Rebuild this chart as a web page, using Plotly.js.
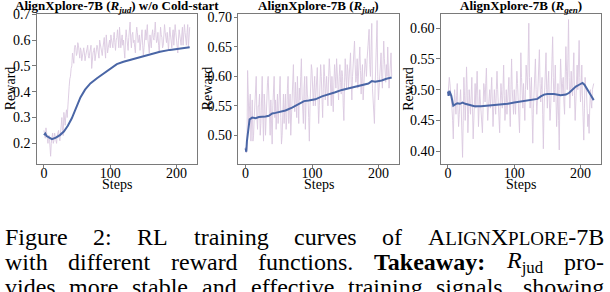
<!DOCTYPE html>
<html>
<head>
<meta charset="utf-8">
<script src="https://cdn.plot.ly/plotly-3.0.1.min.js"></script>
<style>html,body{margin:0;padding:0;background:#fff;}#chart{width:610px;height:292px;}</style>
</head>
<body>
<div id="chart"></div>
<script>
// ---------- data ----------
const rawStepInterval = 1; // raw reward logged every step (0..220)

// Panel 1: AlignXplore-7B (R_jud) w/o Cold-start
const raw1 = [0.25,0.24,0.22,0.26,0.24,0.21,0.20,0.23,0.23,0.19,0.15,
  0.20,0.22,0.24,0.20,0.21,0.24,0.22,0.21,0.20,0.23,0.24,0.25,0.22,0.21,
  0.24,0.28,0.30,0.25,0.23,0.32,0.29,0.27,0.31,0.33,0.30,0.36,
  0.39,0.42,0.45,0.46,0.49,0.50,0.55,0.53,0.51,0.57,
  0.58,0.57,0.54,0.55,0.59,0.58,0.55,0.53,0.57,0.56,0.52,0.54,0.57,0.57,0.55,0.52,0.54,0.55,0.57,0.58,0.54,0.53,0.55,0.56,0.58,0.49,0.53,
  0.55,0.56,0.57,0.52,0.54,0.56,0.58,0.57,0.55,0.53,0.60,0.58,0.56,0.55,0.54,0.57,0.59,0.61,0.56,0.53,0.62,0.59,0.55,0.57,0.58,0.60,0.57,
  0.62,0.60,0.58,0.57,0.61,0.63,0.59,0.56,0.60,0.61,
  0.64,0.59,0.57,0.65,0.61,0.57,0.60,0.62,0.58,0.60,
  0.56,0.53,0.60,0.64,0.61,0.58,0.56,0.61,0.63,0.67,
  0.60,0.57,0.62,0.63,0.59,0.60,0.57,0.55,0.62,0.65,
  0.63,0.59,0.60,0.62,0.56,0.58,0.61,0.64,0.58,0.54,
  0.57,0.61,0.64,0.60,0.63,0.66,0.60,0.58,0.55,0.62,
  0.59,0.57,0.62,0.64,0.61,0.60,0.63,0.67,0.62,0.59,
  0.60,0.63,0.58,0.55,0.60,0.65,0.62,0.61,0.57,0.58,
  0.62,0.66,0.63,0.60,0.59,0.63,0.60,0.56,0.61,0.65,
  0.62,0.60,0.57,0.62,0.64,0.58,0.61,0.66,0.63,0.61,
  0.58,0.55,0.60,0.64,0.62,0.60,0.58,0.62,0.65,0.58,
  0.61,0.66,0.63,0.60,0.58,0.63,0.66,0.57,0.61,0.65];
const smoothSteps1 = [0,2,4,8,12,18,24,30,36,42,48,55,62,70,80,90,100,110,120,130,145,160,175,190,205,220];
const smooth1 = [0.232,0.238,0.228,0.222,0.216,0.222,0.232,0.246,0.268,0.297,0.335,0.378,0.408,0.432,0.452,0.470,0.490,0.507,0.516,0.523,0.533,0.545,0.555,0.562,0.567,0.572];

// Panel 2: AlignXplore-7B (R_jud)
const raw2 = [0.48,0.47,0.475,0.61,0.57,0.52,0.55,0.57,0.49,0.53,0.56,
  0.49,0.50,0.53,0.56,0.58,0.60,0.53,0.51,0.55,0.55,0.57,0.50,0.52,0.58,0.60,0.53,0.49,0.57,0.55,0.50,
  0.54,0.55,0.59,0.60,0.56,0.52,0.50,0.56,0.53,0.485,0.55,0.58,0.60,0.53,0.56,
  0.51,0.54,0.57,0.52,0.55,0.58,0.60,0.53,0.485,0.50,0.54,0.57,0.52,0.55,0.57,
  0.51,0.53,0.58,0.60,0.52,0.55,0.57,0.50,0.54,0.58,0.61,0.62,0.56,0.54,0.59,0.57,0.53,0.60,0.55,0.52,
  0.58,0.56,0.60,0.63,0.57,0.55,0.52,0.58,0.60,0.51,0.55,0.60,0.57,0.56,0.53,0.49,0.55,0.59,0.62,0.61,
  0.57,0.55,0.58,0.60,0.55,0.57,0.59,0.615,0.56,0.52,0.55,0.58,0.62,0.60,0.57,0.53,0.58,0.62,0.60,0.56,
  0.58,0.60,0.57,0.55,0.60,0.63,0.61,0.57,0.55,0.60,0.56,0.54,0.59,0.62,0.60,0.58,0.63,0.60,0.58,0.56,
  0.60,0.62,0.59,0.57,0.61,0.60,0.55,0.525,0.59,0.63,0.60,0.58,0.62,0.61,0.58,0.60,0.63,0.64,0.59,0.56,
  0.60,0.62,0.66,0.66,0.62,0.59,0.60,0.63,0.58,0.60,0.62,0.65,0.61,0.57,0.60,0.62,0.56,0.59,0.61,0.63,
  0.62,0.60,0.63,0.65,0.67,0.68,0.62,0.60,0.65,0.69,0.58,0.55,0.53,0.52,0.58,0.62,0.67,0.695,0.60,0.56,
  0.58,0.60,0.62,0.64,0.60,0.58,0.62,0.66,0.63,0.61,0.59,0.62,0.60,0.65,0.61,0.58,0.60,0.63,0.64,0.60];
const smoothSteps2 = [0,1,2,4,6,10,15,20,25,30,35,40,45,50,55,60,70,80,88,95,105,115,125,135,145,155,165,175,185,190,195,205,212,220];
const smooth2 = [0.478,0.472,0.490,0.515,0.527,0.530,0.529,0.531,0.531,0.532,0.533,0.537,0.538,0.539,0.540,0.542,0.547,0.553,0.558,0.559,0.561,0.566,0.569,0.573,0.577,0.580,0.583,0.585,0.588,0.592,0.591,0.593,0.596,0.598];

// Panel 3: AlignXplore-7B (R_gen)
const raw3 = [0.49,0.50,0.52,0.51,0.50,0.48,0.47,0.45,0.42,0.47,0.50,
  0.48,0.46,0.49,0.51,0.47,0.44,0.46,0.49,0.50,0.47,0.43,0.39,0.45,0.52,0.49,0.45,0.48,0.537,0.50,0.43,
  0.46,0.50,0.48,0.46,0.49,0.52,0.47,0.42,0.45,0.49,0.51,0.47,0.50,0.53,0.49,
  0.44,0.47,0.50,0.48,0.46,0.44,0.43,0.47,0.51,0.50,0.48,0.51,0.535,0.48,0.45,
  0.47,0.49,0.50,0.47,0.49,0.52,0.48,0.44,0.47,0.50,0.48,0.46,0.50,0.53,0.50,0.48,0.45,0.43,0.48,0.51,
  0.49,0.47,0.50,0.54,0.49,0.45,0.47,0.50,0.46,0.48,0.50,0.52,0.47,0.44,0.50,0.55,0.50,0.47,0.46,0.50,
  0.48,0.46,0.50,0.53,0.51,0.49,0.46,0.43,0.49,0.56,0.52,0.48,0.47,0.51,0.49,0.45,0.50,0.54,0.52,0.50,
  0.55,0.608,0.52,0.47,0.50,0.52,0.46,0.413,0.47,0.50,0.53,0.55,0.50,0.46,0.48,0.51,0.54,0.565,0.51,0.48,
  0.50,0.52,0.46,0.404,0.47,0.50,0.53,0.56,0.50,0.47,0.51,0.53,0.48,0.45,0.47,0.50,0.55,0.586,0.52,0.48,
  0.50,0.54,0.49,0.44,0.47,0.51,0.45,0.402,0.50,0.55,0.52,0.49,0.51,0.52,0.48,0.46,0.52,0.57,0.53,0.50,
  0.55,0.614,0.52,0.47,0.50,0.53,0.50,0.49,0.53,0.56,0.49,0.45,0.48,0.52,0.54,0.50,0.55,0.58,0.52,0.48,
  0.50,0.54,0.49,0.46,0.418,0.47,0.52,0.50,0.50,0.47,0.44,0.46,0.429,0.47,0.50,0.48,0.47,0.50,0.51,0.51];
const smoothSteps3 = [0,1,2,3,5,8,11,14,18,22,26,30,35,40,50,60,70,80,90,100,110,120,130,135,140,145,150,160,170,178,183,188,193,198,203,206,210,215,220];
const smooth3 = [0.497,0.490,0.498,0.495,0.490,0.474,0.476,0.478,0.477,0.479,0.477,0.476,0.474,0.473,0.473,0.474,0.474,0.475,0.477,0.479,0.481,0.483,0.484,0.485,0.489,0.492,0.493,0.493,0.491,0.492,0.495,0.500,0.505,0.508,0.511,0.508,0.500,0.492,0.483];

const titles = [
  'AlignXplore-7B (<i>R</i><sub><i>jud</i></sub>) w/o Cold-start',
  'AlignXplore-7B (<i>R</i><sub><i>jud</i></sub>)',
  'AlignXplore-7B (<i>R</i><sub><i>gen</i></sub>)'
];
const yTicks = [
  [0.2,0.3,0.4,0.5,0.6,0.7],
  [0.50,0.55,0.60,0.65,0.70],
  [0.40,0.45,0.50,0.55,0.60]
];
const yTickText = [
  ['0.2','0.3','0.4','0.5','0.6','0.7'],
  ['0.50','0.55','0.60','0.65','0.70'],
  ['0.40','0.45','0.50','0.55','0.60']
];
const xTicks = [0,100,200];
const xLabel = 'Steps';
const yLabel = 'Reward';
const SC = '<span style="font-size:19px">';
const captionWords = [
  ['Figure','2:','RL','training','curves','of','A'+SC+'LIGN</span>X'+SC+'PLORE</span>-7B'],
  ['with','different','reward','functions.','<b>Takeaway:</b>','<i>R</i><sub>jud</sub>','pro-'],
  ['vides','more','stable','and','effective','training','signals,','showing']
];

// ---------- styles ----------
const W = 610, H = 292;
const FONT = 'Liberation Serif';
const RAW_COLOR = '#dac8e0';
const SMOOTH_COLOR = '#4a66a6';
const FRAME = '#7a7a7a';

const raws = [raw1, raw2, raw3];
const smoothSteps = [smoothSteps1, smoothSteps2, smoothSteps3];
const smooths = [smooth1, smooth2, smooth3];

// panel frames in pixels (left, right, top, bottom)
const frames = [
  [36.7, 197, 14, 163.5],
  [238.3, 399, 14, 163.5],
  [440.7, 601, 14, 163.5]
];
const yLabelX = [10.5, 207.5, 409];
const yRanges = [[0.122, 0.701],[0.452, 0.706],[0.380, 0.623]];
const xRange = [-11, 231];

const traces = [];
const layout = {
  width: W, height: H,
  margin: {l:0, r:0, t:0, b:0},
  paper_bgcolor: '#fff', plot_bgcolor: '#fff',
  showlegend: false,
  font: {family: FONT, color: '#000', size: 14},
  annotations: []
};

for (let i = 0; i < 3; i++) {
  const xa = i === 0 ? 'x' : 'x' + (i+1);
  const ya = i === 0 ? 'y' : 'y' + (i+1);
  const rawSteps = raws[i].map((_, k) => k * rawStepInterval);
  traces.push({x: rawSteps, y: raws[i], type: 'scatter', mode: 'lines', xaxis: xa, yaxis: ya,
    line: {color: RAW_COLOR, width: 0.9}, hoverinfo: 'skip'});
  traces.push({x: smoothSteps[i], y: smooths[i], type: 'scatter', mode: 'lines', xaxis: xa, yaxis: ya,
    line: {color: SMOOTH_COLOR, width: 2}, hoverinfo: 'skip'});
  const f = frames[i];
  const axCommon = {showline: true, mirror: true, linecolor: FRAME, linewidth: 1,
    ticks: 'outside', ticklen: 3.5, tickwidth: 1, tickcolor: FRAME,
    showgrid: false, zeroline: false, tickfont: {family: FONT, size: 14, color: '#000'}};
  layout[i === 0 ? 'xaxis' : 'xaxis' + (i+1)] = Object.assign({}, axCommon, {
    domain: [f[0]/W, f[1]/W], range: xRange, tickvals: xTicks, anchor: ya, ticklabelstandoff: -7});
  layout[i === 0 ? 'yaxis' : 'yaxis' + (i+1)] = Object.assign({}, axCommon, {
    domain: [1 - f[3]/H, 1 - f[2]/H], range: yRanges[i], tickvals: yTicks[i], ticktext: yTickText[i], anchor: xa,
    ticklabelstandoff: -1});
  const cx = (f[0] + f[1]) / 2;
  layout.annotations.push({text: '<b>' + titles[i] + '</b>', xref: 'paper', yref: 'paper',
    x: cx / W, y: 1 - 7 / H, xanchor: 'center', yanchor: 'middle', showarrow: false,
    font: {family: FONT, size: 13, color: '#000'}});
  layout.annotations.push({text: xLabel, xref: 'paper', yref: 'paper',
    x: cx / W, y: 1 - 184 / H, xanchor: 'center', yanchor: 'middle', showarrow: false,
    font: {family: FONT, size: 14, color: '#000'}});
  layout.annotations.push({text: yLabel, xref: 'paper', yref: 'paper', textangle: -90,
    x: yLabelX[i] / W, y: 1 - ((f[2] + f[3]) / 2) / H, xanchor: 'center', yanchor: 'middle', showarrow: false,
    font: {family: FONT, size: 14, color: '#000'}});
}

// caption words (justified after first render)
const capY = [237, 262, 287];
const capLeft = 5, capRight = 604;
const capIdx = [];
for (let j = 0; j < captionWords.length; j++) {
  capIdx.push([]);
  for (const w of captionWords[j]) {
    capIdx[j].push(layout.annotations.length);
    layout.annotations.push({text: w, xref: 'paper', yref: 'paper',
      x: capLeft / W, y: 1 - capY[j] / H, xanchor: 'left', yanchor: 'middle', showarrow: false,
      borderpad: 0, borderwidth: 0,
      font: {family: FONT, size: 24, color: '#000'}});
  }
}

Plotly.newPlot('chart', traces, layout, {staticPlot: true, displayModeBar: false}).then(gd => {
  const upd = {};
  for (let j = 0; j < capIdx.length; j++) {
    const widths = capIdx[j].map(k => {
      const el = gd.querySelector('g.annotation[data-index="' + k + '"] text.annotation-text');
      return el ? el.getBBox().width : 0;
    });
    const total = widths.reduce((a, b) => a + b, 0);
    const gap = (capRight - capLeft - total) / (widths.length - 1);
    let x = capLeft;
    capIdx[j].forEach((k, n) => {
      upd['annotations[' + k + '].x'] = x / W;
      x += widths[n] + gap;
    });
  }
  return Plotly.relayout(gd, upd);
});
</script>
</body>
</html>
